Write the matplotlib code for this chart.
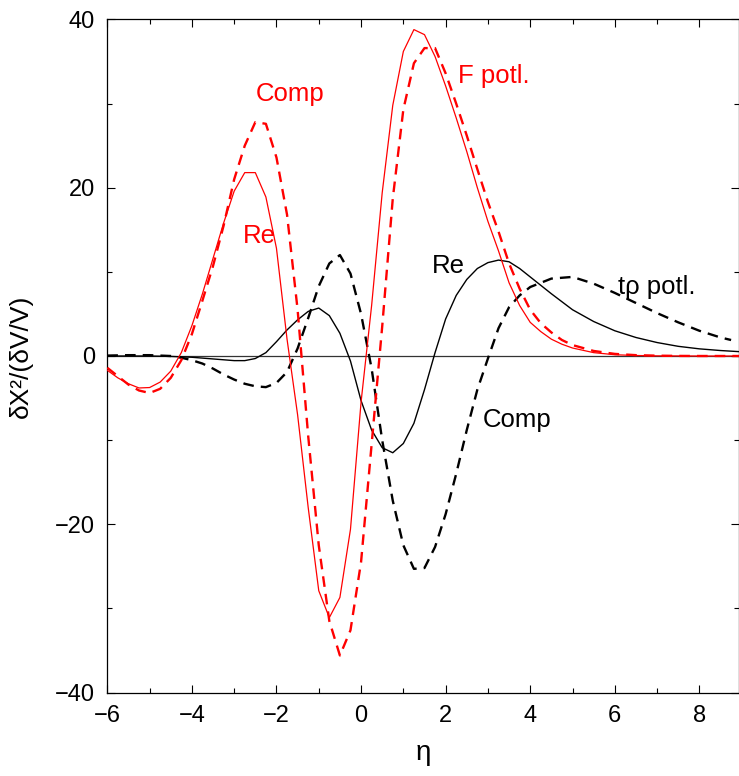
import matplotlib
matplotlib.use("Agg")
import matplotlib.pyplot as plt
from matplotlib.ticker import MultipleLocator

plt.rcParams['font.family'] = ['Liberation Sans Narrow', 'Liberation Sans', 'DejaVu Sans']

# ---- data ----
eta = [-6, -5.75, -5.5, -5.25, -5, -4.75, -4.5, -4.25, -4, -3.75, -3.5, -3.25, -3,
       -2.75, -2.5, -2.25, -2, -1.75, -1.5, -1.25, -1, -0.75, -0.5, -0.25, 0,
       0.25, 0.5, 0.75, 1, 1.25, 1.5, 1.75, 2, 2.25, 2.5, 2.75, 3, 3.25, 3.5,
       3.75, 4, 4.25, 4.5, 4.75, 5, 5.5, 6, 6.5, 7, 7.5, 8, 8.5, 9]

f_re = [-1.7, -2.6, -3.3, -3.8, -3.75, -3.1, -1.8, 0.4, 3.6, 7.4, 11.6, 15.8, 19.6,
        21.8, 21.8, 18.9, 12.8, 2.0, -7.0, -18.0, -27.9, -31.1, -28.7, -20.6, -5.5,
        6.0, 19.4, 29.8, 36.2, 38.8, 38.2, 35.6, 32.1, 28.3, 24.3, 20.0, 16.0, 12.5, 8.7,
        6.0, 4.0, 2.9, 2.0, 1.4, 0.95, 0.4, 0.15, 0.06, 0.02, 0.01, 0.0, 0.0, 0.0]

f_comp = [-1.4, -2.4, -3.4, -4.1, -4.4, -3.9, -2.6, -0.5, 2.6, 6.6, 10.7, 15.5, 21.0,
          25.0, 27.8, 27.6, 23.6, 16.8, 5.5, -9.5, -22.5, -31.5, -35.6, -32.6, -24.5,
          -10.5, 3.5, 18.7, 29.3, 34.8, 36.6, 36.6, 33.6, 30.0, 26.2, 22.2, 18.3, 14.8, 11.0,
          8.0, 5.5, 3.9, 2.8, 1.9, 1.3, 0.6, 0.25, 0.1, 0.04, 0.01, 0.0, 0.0, 0.0]

eta_t = [-6, -5.5, -5, -4.5, -4.25, -4, -3.75, -3.5, -3.25, -3, -2.75, -2.5, -2.25, -2,
         -1.75, -1.5, -1.25, -1, -0.75, -0.5, -0.25, 0, 0.25, 0.5, 0.75, 1, 1.25,
         1.5, 1.75, 2, 2.25, 2.5, 2.75, 3, 3.25, 3.5, 3.75, 4, 4.5, 5, 5.5, 6,
         6.5, 7, 7.5, 8, 8.5, 9]

t_re = [0.0, 0.0, 0.0, -0.05, -0.1, -0.15, -0.25, -0.35, -0.45, -0.55, -0.55, -0.3, 0.4, 1.7,
        3.1, 4.3, 5.3, 5.7, 4.8, 2.7, -0.6, -5.3, -8.8, -10.9, -11.5, -10.4, -8.0,
        -4.0, 0.4, 4.4, 7.2, 9.1, 10.4, 11.1, 11.4, 11.2, 10.4, 9.4, 7.4, 5.5, 4.1, 3.0,
        2.2, 1.6, 1.15, 0.85, 0.65, 0.5]

eta_tc = [-6, -5.5, -5, -4.5, -4.25, -4, -3.75, -3.5, -3.25, -3, -2.75, -2.5, -2.25, -2,
          -1.75, -1.5, -1.25, -1, -0.75, -0.5, -0.25, 0, 0.25, 0.5, 0.75, 1, 1.25,
          1.5, 1.75, 2, 2.25, 2.5, 2.75, 3, 3.25, 3.5, 3.75, 4, 4.5, 5, 5.5, 6,
          6.5, 7, 7.5, 8, 8.5, 8.75]

t_comp = [0.05, 0.1, 0.1, 0.0, -0.2, -0.5, -0.9, -1.5, -2.2, -2.8, -3.3, -3.6, -3.7, -3.2,
          -1.9, 0.9, 4.5, 8.3, 11.0, 12.0, 9.8, 5.0, -1.5, -10.0, -17.2, -22.5, -25.3,
          -25.2, -22.7, -18.8, -14.0, -8.8, -4.0, -0.3, 3.3, 5.8, 7.2, 8.2, 9.2, 9.4, 8.6, 7.5,
          6.3, 5.1, 4.0, 3.0, 2.2, 1.9]

# ---- figure ----
fig = plt.figure(figsize=(7.39, 7.76), dpi=100)
ax = fig.add_axes([107.3 / 739, (776 - 692.5) / 776, (738.5 - 107.3) / 739, 673 / 776])

ax.axhline(0, color='#333333', lw=0.9, zorder=1)

ax.plot(eta, f_re, color='#ff0000', lw=0.9, zorder=3)
ax.plot(eta, f_comp, color='#ff0000', lw=1.7, dashes=(4.5, 3.0), zorder=3)
ax.plot(eta_t, t_re, color='black', lw=1.0, zorder=2)
ax.plot(eta_tc, t_comp, color='black', lw=1.7, dashes=(4.5, 3.0), zorder=2)

ax.set_xlim(-6, 8.925)
ax.set_ylim(-40, 40)
ax.xaxis.set_major_locator(MultipleLocator(2))
ax.xaxis.set_minor_locator(MultipleLocator(1))
ax.yaxis.set_major_locator(MultipleLocator(20))
ax.yaxis.set_minor_locator(MultipleLocator(10))
ax.tick_params(which='both', direction='in', top=True, right=True, width=0.8,
               labelsize=17, pad=9)
ax.tick_params(which='major', length=6)
ax.tick_params(which='minor', length=3.5)
for s in ax.spines.values():
    s.set_linewidth(0.9)

ax.set_xlabel('η', fontsize=20, labelpad=9)
ax.set_ylabel('δX²/(δV/V)', fontsize=19, labelpad=16)

tk = dict(fontsize=18.5, ha='left', va='center')
ax.text(-2.48, 31.1, 'Comp', color='#ff0000', **tk)
ax.text(-2.79, 14.3, 'Re', color='#ff0000', **tk)
ax.text(2.29, 33.3, 'F potl.', color='#ff0000', **tk)
ax.text(1.67, 10.7, 'Re', color='black', **tk)
ax.text(6.08, 8.15, 'tρ potl.', color='black', **tk)
ax.text(2.88, -7.6, 'Comp', color='black', **tk)

fig.savefig('out.png', dpi=100)
